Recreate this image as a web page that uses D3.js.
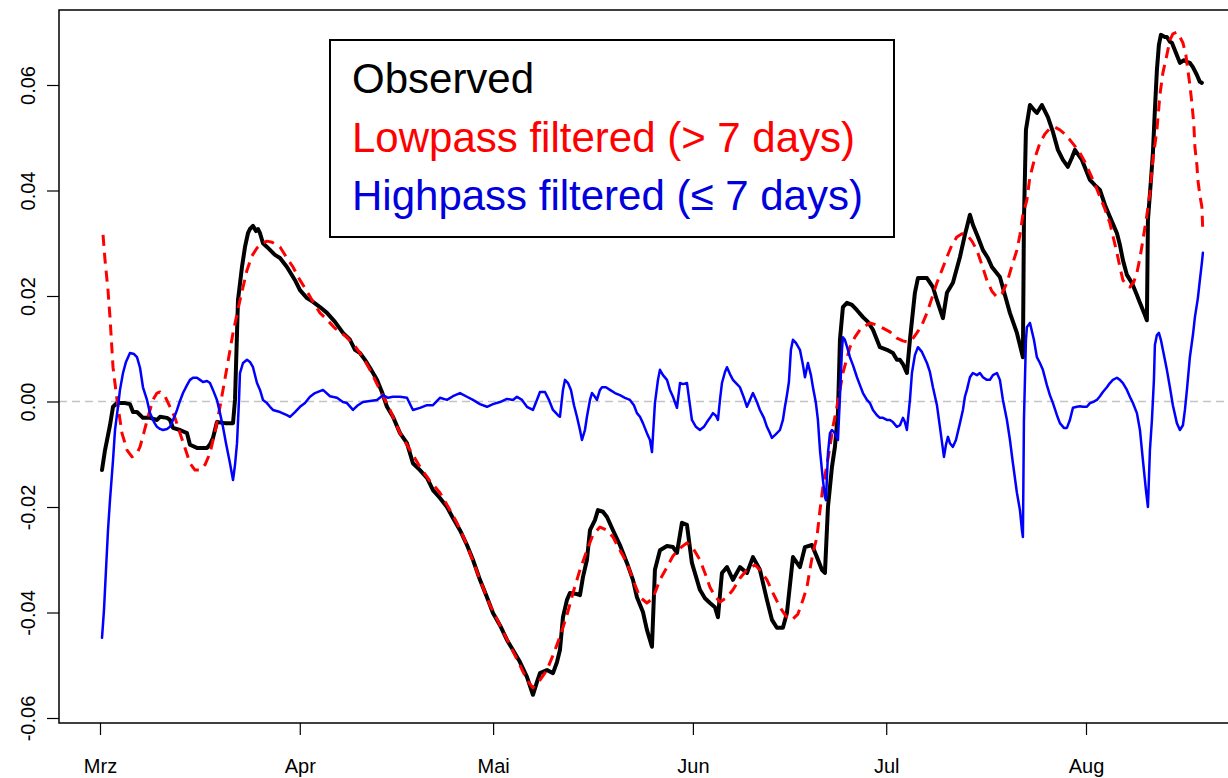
<!DOCTYPE html>
<html><head><meta charset="utf-8">
<script src="https://cdn.jsdelivr.net/npm/d3@7"></script>
<style>
html,body{margin:0;padding:0;background:#fff;overflow:hidden;}
svg{display:block;}
text{font-family:"Liberation Sans",Arial,Helvetica,sans-serif;}
</style>
</head><body>
<svg id="chart" width="1228" height="778"></svg>
<script>
// ---------- data (days since 1 March, values) ----------
const monthLabels = ["Mrz","Apr","Mai","Jun","Jul","Aug"];
const monthStarts = ["2021-03-01","2021-04-01","2021-05-01","2021-06-01","2021-07-01","2021-08-01"];
const yTickValues = [-0.06,-0.04,-0.02,0.00,0.02,0.04,0.06];
const yTickLabels = ["-0.06","-0.04","-0.02","0.00","0.02","0.04","0.06"];
const legendLabels = ["Observed","Lowpass filtered (> 7 days)","Highpass filtered (\u2264 7 days)"];

const obsDays = [0.31,0.78,1.55,2.02,2.64,3.88,4.65,5.12,5.74,6.67,7.76,8.84,9.31,10.40,10.86,11.33,12.41,13.50,13.96,15.05,16.60,17.07,17.53,18.15,19.39,20.64,20.95,21.41,22.03,22.50,22.96,23.27,23.74,24.20,24.52,24.83,25.29,25.91,27.15,27.93,29.01,30.26,31.03,32.12,33.05,34.13,35.22,36.46,37.70,38.79,39.57,40.34,41.12,41.89,42.98,43.75,44.53,45.46,46.55,47.63,48.56,49.65,50.74,51.67,52.75,53.84,54.77,55.86,56.94,57.87,58.96,60.05,60.98,62.06,63.15,64.08,65.17,66.25,67.18,67.80,68.27,69.36,70.29,70.91,71.37,71.84,72.46,72.92,74.01,74.48,74.94,75.56,76.03,76.80,77.27,78.04,78.67,79.60,80.68,81.77,82.70,83.32,84.25,84.87,85.65,86.11,86.89,87.98,88.91,89.53,90.30,91.08,91.85,93.09,93.87,94.65,95.42,95.89,96.51,97.29,98.22,99.30,100.39,101.32,102.40,103.49,104.27,105.04,105.97,106.59,107.53,108.61,109.39,110.47,111.25,112.02,112.49,112.96,113.58,114.04,114.51,114.82,115.28,115.90,116.68,117.46,118.39,119.16,119.94,121.02,122.11,123.04,123.66,124.13,124.59,125.21,125.68,126.45,126.92,128.32,129.25,129.87,130.80,131.42,132.35,133.44,134.21,134.52,134.99,135.45,136.23,137.01,137.78,138.40,139.64,140.42,141.19,142.28,143.21,143.37,143.68,144.30,144.92,145.38,146.16,147.09,147.87,148.64,149.42,150.19,150.81,151.28,152.37,153.61,154.38,155.16,155.93,156.71,157.80,158.26,158.73,159.35,160.12,160.90,161.37,162.14,162.45,162.61,163.08,163.38,163.69,164.00,164.31,164.62,165.24,165.55,166.02,166.33,166.95,167.57,168.19,168.66,169.12,169.59,170.21,170.67,170.98];
const obsVals = [-0.0130,-0.0092,-0.0045,-0.0010,-0.0003,-0.0003,-0.0005,-0.0020,-0.0020,-0.0031,-0.0031,-0.0035,-0.0029,-0.0031,-0.0035,-0.0050,-0.0054,-0.0060,-0.0082,-0.0088,-0.0088,-0.0081,-0.0069,-0.0039,-0.0041,-0.0041,0.0003,0.0192,0.0255,0.0293,0.0319,0.0327,0.0333,0.0323,0.0327,0.0319,0.0300,0.0293,0.0278,0.0272,0.0255,0.0230,0.0211,0.0196,0.0189,0.0179,0.0168,0.0151,0.0130,0.0117,0.0098,0.0092,0.0079,0.0064,0.0041,0.0018,-0.0010,-0.0029,-0.0060,-0.0079,-0.0117,-0.0130,-0.0145,-0.0168,-0.0183,-0.0200,-0.0221,-0.0244,-0.0272,-0.0300,-0.0338,-0.0371,-0.0401,-0.0424,-0.0452,-0.0471,-0.0494,-0.0522,-0.0556,-0.0532,-0.0515,-0.0509,-0.0515,-0.0494,-0.0471,-0.0409,-0.0376,-0.0363,-0.0365,-0.0367,-0.0333,-0.0300,-0.0244,-0.0225,-0.0206,-0.0209,-0.0219,-0.0244,-0.0272,-0.0306,-0.0338,-0.0371,-0.0399,-0.0433,-0.0465,-0.0319,-0.0282,-0.0274,-0.0276,-0.0287,-0.0230,-0.0234,-0.0306,-0.0357,-0.0373,-0.0382,-0.0390,-0.0409,-0.0325,-0.0314,-0.0338,-0.0314,-0.0325,-0.0295,-0.0319,-0.0376,-0.0414,-0.0429,-0.0429,-0.0401,-0.0295,-0.0314,-0.0276,-0.0272,-0.0295,-0.0319,-0.0325,-0.0200,-0.0124,-0.0086,-0.0022,0.0117,0.0179,0.0187,0.0183,0.0173,0.0160,0.0151,0.0136,0.0103,0.0098,0.0092,0.0079,0.0079,0.0071,0.0054,0.0117,0.0206,0.0234,0.0234,0.0217,0.0192,0.0158,0.0206,0.0225,0.0274,0.0316,0.0331,0.0354,0.0335,0.0312,0.0287,0.0272,0.0255,0.0236,0.0202,0.0168,0.0130,0.0084,0.0344,0.0515,0.0562,0.0553,0.0547,0.0562,0.0539,0.0511,0.0477,0.0458,0.0445,0.0462,0.0477,0.0458,0.0420,0.0410,0.0401,0.0373,0.0350,0.0319,0.0297,0.0268,0.0240,0.0225,0.0202,0.0187,0.0164,0.0154,0.0344,0.0420,0.0471,0.0553,0.0628,0.0676,0.0695,0.0691,0.0691,0.0682,0.0680,0.0661,0.0642,0.0647,0.0644,0.0642,0.0634,0.0619,0.0606,0.0604];

const lowDays = [0.47,0.78,1.24,1.55,2.02,2.64,3.41,4.19,4.97,5.74,6.21,6.83,7.45,8.22,8.84,9.31,10.09,10.86,11.64,12.41,13.19,13.96,14.74,15.52,16.29,17.07,17.84,18.62,19.71,20.64,21.72,22.81,23.58,24.36,25.14,25.91,26.69,27.93,29.01,29.95,31.03,32.12,33.05,34.13,35.22,36.46,38.32,39.57,40.81,41.89,43.44,45.00,46.55,48.10,49.65,51.20,52.75,54.31,55.39,56.94,58.96,60.51,62.06,63.61,65.17,66.25,67.18,68.27,69.36,70.29,71.37,72.46,73.39,74.48,75.56,76.49,77.58,78.67,79.60,80.68,81.77,82.70,83.79,84.87,85.80,86.89,87.98,88.91,89.99,91.08,92.01,93.09,93.87,94.65,95.42,96.20,97.29,98.22,99.30,100.39,101.63,102.40,103.49,104.42,105.51,106.44,107.37,108.30,109.08,109.70,110.16,110.63,111.25,111.72,112.18,112.80,113.27,113.73,114.35,114.82,115.28,115.90,116.37,117.14,117.92,118.70,119.47,120.56,121.49,122.58,123.66,124.59,125.21,125.99,126.76,127.54,128.32,129.09,129.87,130.64,131.42,132.20,132.97,133.75,134.52,135.30,136.07,136.85,137.62,138.40,139.18,139.95,140.73,141.50,142.28,142.75,143.21,143.83,144.30,145.07,145.85,146.62,147.40,148.18,148.95,149.73,150.50,151.28,152.06,152.83,153.61,154.38,155.16,155.93,156.71,157.33,157.80,158.26,158.73,159.35,159.81,160.43,160.90,161.37,161.83,162.45,162.92,163.38,164.00,164.47,164.93,165.55,166.02,166.48,167.10,167.57,168.04,168.50,168.81,169.12,169.43,169.74,169.90,170.21,170.36,170.67,170.98,171.14];
const lowVals = [0.0316,0.0268,0.0211,0.0160,0.0065,0.0003,-0.0060,-0.0092,-0.0105,-0.0098,-0.0086,-0.0058,-0.0029,0.0003,0.0016,0.0018,0.0010,-0.0010,-0.0031,-0.0060,-0.0088,-0.0117,-0.0130,-0.0130,-0.0120,-0.0098,-0.0058,-0.0010,0.0065,0.0130,0.0192,0.0249,0.0276,0.0291,0.0300,0.0304,0.0302,0.0293,0.0272,0.0255,0.0230,0.0209,0.0189,0.0168,0.0155,0.0139,0.0122,0.0105,0.0084,0.0060,0.0022,-0.0016,-0.0060,-0.0092,-0.0124,-0.0151,-0.0173,-0.0206,-0.0230,-0.0272,-0.0338,-0.0386,-0.0424,-0.0462,-0.0500,-0.0528,-0.0543,-0.0528,-0.0509,-0.0481,-0.0446,-0.0405,-0.0363,-0.0319,-0.0282,-0.0253,-0.0238,-0.0244,-0.0257,-0.0282,-0.0306,-0.0338,-0.0371,-0.0382,-0.0373,-0.0338,-0.0314,-0.0293,-0.0278,-0.0268,-0.0278,-0.0300,-0.0325,-0.0352,-0.0369,-0.0380,-0.0371,-0.0357,-0.0335,-0.0319,-0.0310,-0.0319,-0.0338,-0.0363,-0.0390,-0.0407,-0.0414,-0.0403,-0.0376,-0.0352,-0.0319,-0.0287,-0.0257,-0.0206,-0.0162,-0.0120,-0.0086,-0.0048,-0.0010,0.0022,0.0054,0.0082,0.0103,0.0122,0.0136,0.0143,0.0149,0.0145,0.0139,0.0132,0.0120,0.0115,0.0113,0.0117,0.0130,0.0145,0.0168,0.0196,0.0225,0.0249,0.0274,0.0297,0.0312,0.0318,0.0316,0.0304,0.0287,0.0259,0.0230,0.0209,0.0198,0.0204,0.0225,0.0257,0.0287,0.0316,0.0354,0.0382,0.0426,0.0462,0.0490,0.0507,0.0518,0.0520,0.0515,0.0507,0.0496,0.0484,0.0471,0.0454,0.0433,0.0412,0.0388,0.0365,0.0338,0.0306,0.0282,0.0255,0.0230,0.0219,0.0217,0.0227,0.0244,0.0272,0.0306,0.0354,0.0395,0.0458,0.0515,0.0581,0.0623,0.0657,0.0685,0.0697,0.0700,0.0691,0.0680,0.0657,0.0628,0.0600,0.0566,0.0524,0.0482,0.0448,0.0420,0.0391,0.0369,0.0319];

const highDays = [0.31,0.62,0.93,1.24,1.55,2.02,2.33,2.79,3.10,3.57,4.03,4.65,5.28,5.74,6.21,6.67,7.29,7.76,8.38,8.84,9.31,9.78,10.40,10.86,11.48,11.95,12.41,12.88,13.50,13.96,14.43,15.05,15.52,15.98,16.60,17.07,17.53,18.15,18.62,19.08,19.55,20.17,20.64,20.95,21.26,21.57,21.72,22.19,22.81,23.27,23.74,24.36,24.83,25.29,25.91,26.38,26.84,27.93,29.01,29.48,30.26,31.03,31.81,32.58,33.36,34.60,35.69,36.77,37.70,38.32,39.26,40.03,40.81,41.89,42.98,43.91,44.69,45.46,46.55,47.63,48.56,49.65,50.74,51.67,52.75,53.84,54.77,55.86,56.94,57.87,58.96,60.05,60.98,62.06,63.15,64.08,64.70,65.48,66.25,67.18,67.80,68.27,69.05,69.67,70.29,71.06,71.37,71.84,72.15,72.62,73.08,73.55,74.01,74.48,74.79,75.25,75.56,76.03,76.34,76.80,77.11,77.58,77.89,78.51,79.13,79.91,80.68,81.46,82.23,82.85,83.32,83.79,84.25,84.87,85.34,85.65,86.11,86.58,86.89,87.36,87.98,88.44,88.91,89.53,90.00,90.46,91.08,91.54,91.85,92.47,93.09,93.71,94.18,94.65,95.11,95.58,95.89,96.20,96.51,96.98,97.29,97.75,98.22,98.84,99.30,99.92,100.39,100.85,101.32,101.94,102.40,103.02,103.49,103.96,104.27,104.89,105.51,105.97,106.28,106.59,106.90,107.21,107.53,107.99,108.61,109.08,109.39,109.85,110.32,110.63,111.09,111.40,111.72,112.18,112.49,112.65,112.96,113.27,113.58,114.04,114.51,114.82,115.13,115.28,115.59,116.06,116.37,116.84,117.46,117.92,118.39,119.01,119.47,119.94,120.56,121.02,121.49,122.11,122.58,123.04,123.66,124.13,124.59,124.90,125.21,125.68,125.99,126.45,126.92,127.54,128.32,128.78,129.25,129.87,130.33,130.96,131.27,131.58,131.89,132.35,132.82,133.44,133.90,134.21,134.52,134.99,135.45,136.07,136.54,137.01,137.62,138.09,138.56,139.18,139.64,140.11,140.73,141.20,141.66,142.28,142.75,143.06,143.21,143.37,143.68,143.83,144.30,144.92,145.38,145.85,146.31,146.93,147.40,147.87,148.49,148.95,149.57,150.04,150.50,150.97,151.59,152.06,152.52,153.14,153.61,154.07,154.69,155.16,155.62,156.24,156.71,157.17,157.80,158.26,158.73,159.35,159.81,160.28,160.90,161.37,161.83,162.30,162.61,162.92,163.23,163.54,163.69,164.00,164.31,164.62,164.93,165.55,166.02,166.48,167.10,167.57,168.04,168.35,168.66,169.12,169.59,169.90,170.36,170.67,170.98,171.14];
const highVals = [-0.0448,-0.0395,-0.0319,-0.0244,-0.0187,-0.0111,-0.0054,-0.0010,0.0022,0.0054,0.0075,0.0092,0.0090,0.0084,0.0064,0.0027,0.0003,-0.0022,-0.0039,-0.0048,-0.0052,-0.0054,-0.0052,-0.0048,-0.0031,-0.0016,0.0001,0.0016,0.0031,0.0041,0.0045,0.0045,0.0041,0.0037,0.0039,0.0035,0.0022,0.0003,-0.0022,-0.0048,-0.0079,-0.0117,-0.0149,-0.0120,-0.0079,0.0003,0.0054,0.0073,0.0079,0.0075,0.0065,0.0035,0.0022,0.0003,-0.0003,-0.0010,-0.0016,-0.0020,-0.0026,-0.0029,-0.0020,-0.0010,-0.0003,0.0009,0.0016,0.0022,0.0010,0.0007,-0.0001,-0.0003,-0.0016,-0.0007,-0.0001,0.0001,0.0003,0.0012,0.0007,0.0009,0.0009,0.0007,-0.0016,-0.0012,-0.0007,-0.0007,0.0007,0.0003,0.0010,0.0016,0.0009,0.0003,-0.0005,-0.0010,-0.0005,-0.0001,0.0005,0.0003,0.0009,0.0003,-0.0010,-0.0016,0.0003,0.0018,0.0018,0.0003,-0.0016,-0.0026,-0.0029,0.0022,0.0041,0.0035,0.0022,-0.0007,-0.0029,-0.0054,-0.0073,-0.0054,-0.0029,0.0003,0.0016,0.0009,0.0003,0.0022,0.0027,0.0027,0.0022,0.0016,0.0012,0.0007,0.0003,-0.0007,-0.0022,-0.0029,-0.0041,-0.0060,-0.0073,-0.0096,-0.0003,0.0041,0.0060,0.0050,0.0041,0.0022,0.0009,-0.0012,0.0035,0.0033,0.0035,-0.0007,-0.0035,-0.0048,-0.0054,-0.0048,-0.0039,-0.0031,-0.0022,-0.0027,-0.0035,0.0003,0.0035,0.0056,0.0065,0.0052,0.0041,0.0033,0.0027,0.0007,-0.0010,0.0003,0.0016,-0.0001,-0.0016,-0.0031,-0.0048,-0.0060,-0.0069,-0.0062,-0.0054,-0.0035,-0.0010,0.0012,0.0037,0.0098,0.0117,0.0111,0.0098,0.0069,0.0046,0.0073,0.0050,0.0027,-0.0003,-0.0035,-0.0092,-0.0149,-0.0181,-0.0187,-0.0098,-0.0060,-0.0054,-0.0060,-0.0073,0.0009,0.0098,0.0122,0.0117,0.0098,0.0084,0.0069,0.0046,0.0031,0.0016,0.0003,-0.0003,-0.0016,-0.0026,-0.0031,-0.0031,-0.0035,-0.0035,-0.0039,-0.0048,-0.0045,-0.0031,-0.0039,-0.0054,0.0003,0.0054,0.0088,0.0103,0.0094,0.0073,0.0056,0.0027,-0.0007,-0.0048,-0.0105,-0.0082,-0.0067,-0.0079,-0.0086,-0.0073,-0.0041,-0.0016,0.0009,0.0022,0.0046,0.0054,0.0050,0.0054,0.0046,0.0041,0.0041,0.0050,0.0054,0.0041,0.0003,-0.0035,-0.0073,-0.0117,-0.0173,-0.0206,-0.0244,-0.0257,-0.0035,0.0117,0.0141,0.0149,0.0117,0.0084,0.0073,0.0060,0.0031,0.0012,-0.0003,-0.0026,-0.0041,-0.0050,-0.0050,-0.0035,-0.0012,-0.0010,-0.0009,-0.0010,-0.0010,-0.0003,-0.0001,0.0003,0.0010,0.0018,0.0027,0.0035,0.0041,0.0045,0.0041,0.0035,0.0022,0.0009,-0.0003,-0.0022,-0.0054,-0.0111,-0.0168,-0.0200,-0.0092,-0.0035,0.0041,0.0107,0.0126,0.0130,0.0117,0.0098,0.0060,0.0027,-0.0007,-0.0041,-0.0054,-0.0045,-0.0016,0.0022,0.0084,0.0126,0.0160,0.0196,0.0230,0.0263,0.0282];

// ---------- setup ----------
const svg = d3.select("#chart");
const W = 1228, H = 778;
const box = {left: 59, top: 10, bottom: 723, right: 1240};
const parse = d3.utcParse("%Y-%m-%d");
const t0 = parse(monthStarts[0]);
const toDate = d => new Date(t0.getTime() + d * 864e5);
const monthDates = monthStarts.map(parse);

const x = d3.scaleUtc().domain([monthDates[0], monthDates[5]]).range([100, 1086]);
const y = d3.scaleLinear().domain([-0.06, 0.06]).range([718, 85]);

const mk = (days, vals) => d3.zip(days, vals).map(([d, v]) => ({date: toDate(d), v}));
const obs = mk(obsDays, obsVals), low = mk(lowDays, lowVals), high = mk(highDays, highVals);

svg.append("rect").attr("width", W).attr("height", H).attr("fill", "#fff");

// zero reference line
svg.append("line")
  .attr("x1", box.left).attr("x2", box.right)
  .attr("y1", y(0)).attr("y2", y(0))
  .attr("stroke", "#c4c4c4").attr("stroke-width", 1.5).attr("stroke-dasharray", "8,5");

const line = d3.line().x(d => x(d.date)).y(d => y(d.v));

svg.append("path").datum(obs).attr("d", line)
  .attr("fill", "none").attr("stroke", "#000").attr("stroke-width", 4)
  .attr("stroke-linejoin", "round").attr("stroke-linecap", "round");
svg.append("path").datum(low).attr("d", line)
  .attr("fill", "none").attr("stroke", "#ff0000").attr("stroke-width", 3)
  .attr("stroke-dasharray", "11,7").attr("stroke-linejoin", "round");
svg.append("path").datum(high).attr("d", line)
  .attr("fill", "none").attr("stroke", "#0000ff").attr("stroke-width", 2.5)
  .attr("stroke-linejoin", "round").attr("stroke-linecap", "round");

// plot box
svg.append("rect")
  .attr("x", box.left).attr("y", box.top)
  .attr("width", box.right - box.left).attr("height", box.bottom - box.top)
  .attr("fill", "none").attr("stroke", "#000").attr("stroke-width", 1.5);

// x axis
const xAxis = d3.axisBottom(x).tickValues(monthDates)
  .tickFormat((d, i) => monthLabels[i]).tickSize(12).tickSizeOuter(0);
const gx = svg.append("g").attr("transform", `translate(0,${box.bottom})`).call(xAxis);
gx.select(".domain").remove();
gx.selectAll(".tick line").attr("stroke", "#000").attr("stroke-width", 1.2);
gx.selectAll(".tick text").attr("y", 50).attr("dy", null)
  .attr("font-size", 20).attr("fill", "#000")
  .style("font-family", '"Liberation Sans", Arial, sans-serif');

// y axis
const yAxis = d3.axisLeft(y).tickValues(yTickValues)
  .tickFormat((d, i) => yTickLabels[i]).tickSize(12).tickSizeOuter(0);
const gy = svg.append("g").attr("transform", `translate(${box.left},0)`).call(yAxis);
gy.select(".domain").remove();
gy.selectAll(".tick line").attr("stroke", "#000").attr("stroke-width", 1.2);
gy.selectAll(".tick text")
  .attr("transform", "rotate(-90)").attr("x", 0).attr("y", -24).attr("dy", null)
  .attr("text-anchor", "middle").attr("font-size", 20).attr("fill", "#000")
  .style("font-family", '"Liberation Sans", Arial, sans-serif');

// legend
const lg = svg.append("g");
lg.append("rect").attr("x", 330).attr("y", 40).attr("width", 564).attr("height", 197)
  .attr("fill", "#fff").attr("stroke", "#000").attr("stroke-width", 2);
const legendColors = ["#000000", "#ff0000", "#0000dd"];
lg.selectAll("text.leg").data(legendLabels).join("text")
  .attr("class", "leg")
  .attr("x", 352).attr("y", (d, i) => 93 + i * 58.5)
  .attr("font-size", 42).attr("fill", (d, i) => legendColors[i])
  .text(d => d);
</script>
</body></html>
